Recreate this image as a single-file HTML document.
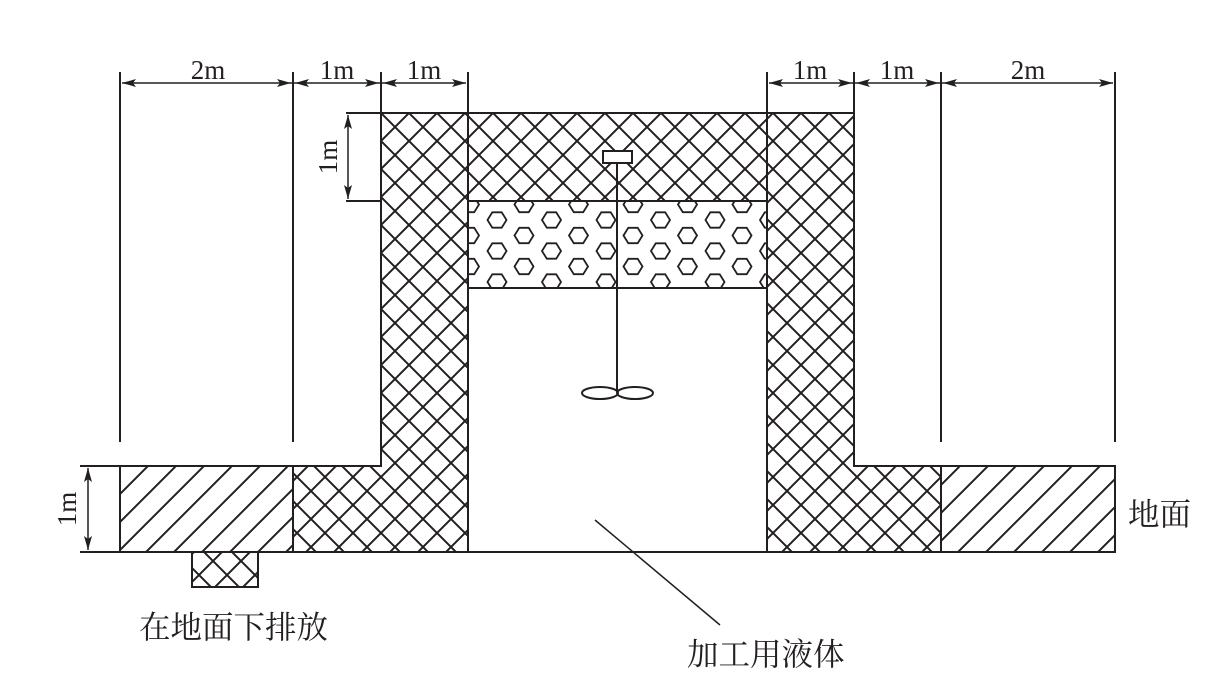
<!DOCTYPE html>
<html><head><meta charset="utf-8"><style>
html,body{margin:0;padding:0;background:#fff;}
svg{display:block;}
text{font-family:"Liberation Serif","Noto Serif CJK SC",serif;fill:#231f20;}
</style></head><body>
<svg width="1223" height="697" viewBox="0 0 1223 697" xmlns="http://www.w3.org/2000/svg">
<defs>
<pattern id="cross" patternUnits="userSpaceOnUse" width="28" height="28" x="381" y="113">
<path d="M0,0 L28,28 M28,0 L0,28 M-14,14 L14,-14 M14,42 L42,14 M-14,14 L14,42 M14,-14 L42,14" stroke="#231f20" stroke-width="2" fill="none"/>
</pattern>
<pattern id="diag" patternUnits="userSpaceOnUse" width="28" height="28" x="120" y="466">
<path d="M-7,7 L7,-7 M0,28 L28,0 M21,35 L35,21" stroke="#231f20" stroke-width="2" fill="none"/>
</pattern>
<pattern id="hex" patternUnits="userSpaceOnUse" width="54.5" height="31" x="470" y="189">
<g fill="none" stroke="#231f20" stroke-width="1.8">
<polygon points="17.5,31 22.3,23.3 31.7,23.3 36.5,31 31.7,38.7 22.3,38.7"/>
<polygon points="17.5,0 22.3,-7.7 31.7,-7.7 36.5,0 31.7,7.7 22.3,7.7"/>
<polygon points="44.5,15.5 49.3,7.8 58.7,7.8 63.5,15.5 58.7,23.2 49.3,23.2"/>
<polygon points="-10,15.5 -5.2,7.8 4.2,7.8 9,15.5 4.2,23.2 -5.2,23.2"/>
</g>
</pattern>
</defs>
<g stroke="#231f20" stroke-width="2" fill="none">
<path d="M381,113 H854 V466 H941 V552 H767 V201 H468 V552 H293 V466 H381 Z" fill="url(#cross)"/>
<rect x="468" y="201" width="299" height="87" fill="url(#hex)"/>
<rect x="120" y="466" width="173" height="86" fill="url(#diag)"/>
<rect x="941" y="466" width="174" height="86" fill="url(#diag)"/>
<rect x="192" y="552" width="66" height="35" fill="url(#cross)"/>
<line x1="80" y1="552" x2="1115" y2="552"/>
<line x1="80" y1="466" x2="120" y2="466"/>
<line x1="346" y1="113" x2="381" y2="113"/>
<line x1="346" y1="201" x2="381" y2="201"/>
<line x1="468" y1="113" x2="468" y2="552"/>
<line x1="767" y1="113" x2="767" y2="552"/>
<line x1="293" y1="466" x2="293" y2="552"/>
<line x1="941" y1="466" x2="941" y2="552"/>
<line x1="120" y1="72" x2="120" y2="442"/>
<line x1="293" y1="72" x2="293" y2="442"/>
<line x1="381" y1="72" x2="381" y2="113"/>
<line x1="468" y1="72" x2="468" y2="113"/>
<line x1="767" y1="72" x2="767" y2="113"/>
<line x1="854" y1="72" x2="854" y2="113"/>
<line x1="941" y1="72" x2="941" y2="442"/>
<line x1="1115" y1="72" x2="1115" y2="442"/>
<line x1="122" y1="83" x2="466" y2="83" stroke-width="1.5"/>
<line x1="769" y1="83" x2="1113" y2="83" stroke-width="1.5"/>
<line x1="348" y1="115" x2="348" y2="199" stroke-width="1.5"/>
<line x1="88" y1="468" x2="88" y2="550" stroke-width="1.5"/>
<rect x="603" y="151" width="29" height="12" fill="#fff"/>
<line x1="617" y1="163" x2="617" y2="392"/>
<ellipse cx="600" cy="393" rx="18" ry="6"/>
<ellipse cx="635" cy="393" rx="18" ry="6"/>
<line x1="595" y1="520" x2="720" y2="625" stroke-width="1.5"/>
</g>
<g fill="#231f20">
<path d="M122,83 l14,-4 l-3,4 l3,4 z M291,83 l-14,-4 l3,4 l-3,4 z"/>
<path d="M295,83 l14,-4 l-3,4 l3,4 z M379,83 l-14,-4 l3,4 l-3,4 z"/>
<path d="M383,83 l14,-4 l-3,4 l3,4 z M466,83 l-14,-4 l3,4 l-3,4 z"/>
<path d="M769,83 l14,-4 l-3,4 l3,4 z M852,83 l-14,-4 l3,4 l-3,4 z"/>
<path d="M856,83 l14,-4 l-3,4 l3,4 z M939,83 l-14,-4 l3,4 l-3,4 z"/>
<path d="M943,83 l14,-4 l-3,4 l3,4 z M1113,83 l-14,-4 l3,4 l-3,4 z"/>
<path d="M348,115 l-4,14 l4,-3 l4,3 z M348,199 l-4,-14 l4,3 l4,-3 z"/>
<path d="M88,468 l-4,14 l4,-3 l4,3 z M88,550 l-4,-14 l4,3 l4,-3 z"/>
</g>
<g font-size="27">
<text x="208" y="79" text-anchor="middle">2m</text>
<text x="337" y="79" text-anchor="middle">1m</text>
<text x="424" y="79" text-anchor="middle">1m</text>
<text x="810" y="79" text-anchor="middle">1m</text>
<text x="897" y="79" text-anchor="middle">1m</text>
<text x="1028" y="79" text-anchor="middle">2m</text>
<text transform="translate(337,157) rotate(-90)" text-anchor="middle">1m</text>
<text transform="translate(76,509) rotate(-90)" text-anchor="middle">1m</text>
</g>
<g font-size="31.5">
<text x="1128" y="525">地面</text>
<text x="139" y="638">在地面下排放</text>
<text x="687" y="665">加工用液体</text>
</g>
</svg>
</body></html>
